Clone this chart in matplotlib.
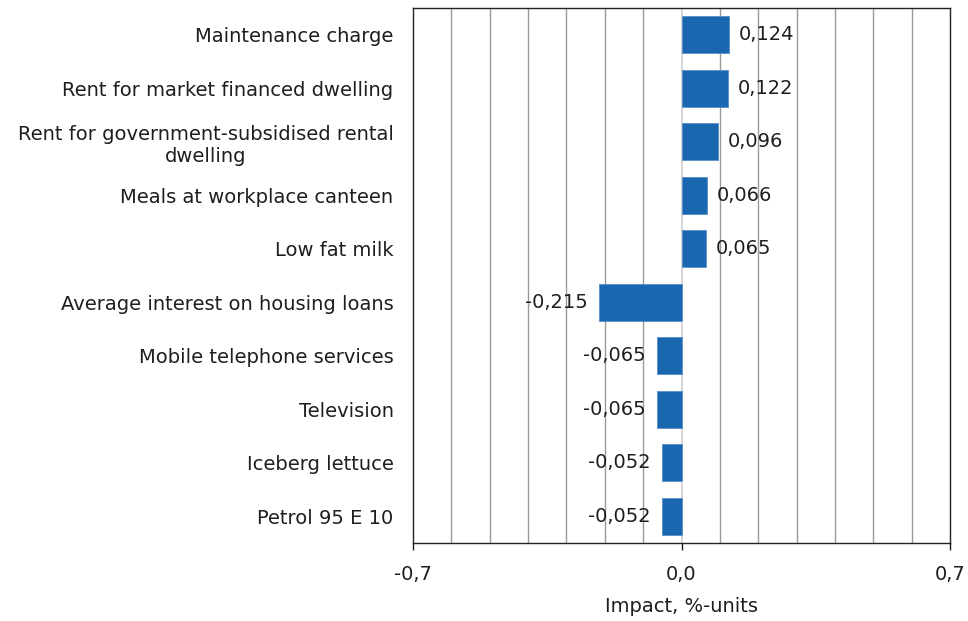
import matplotlib.pyplot as plt
import numpy as np

# Data
items = ["Maintenance charge",
         "Rent for market financed dwelling",
         "Rent for government-subsidised rental\ndwelling",
         "Meals at workplace canteen",
         "Low fat milk",
         "Average interest on housing loans",
         "Mobile telephone services",
         "Television",
         "Iceberg lettuce",
         "Petrol 95 E 10"]
impact = [0.124, 0.122, 0.096, 0.066, 0.065, -0.215, -0.065, -0.065, -0.052, -0.052]
xticks = [-0.7, 0.0, 0.7]

plt.rcParams['font.family'] = ['DejaVu Sans']
fs = 14

fig = plt.figure(figsize=(9.68, 6.21), dpi=100)
ax = fig.add_axes([0.4267, 0.1256, 0.5547, 0.8615])

y = np.arange(len(items))
ax.barh(y, impact, height=0.7, color='#1a67b0', edgecolor='#5a8fca', linewidth=0.6, zorder=3)

# value labels
for yi, v in zip(y, impact):
    txt = ("%.3f" % v).replace('.', ',')
    if v >= 0:
        ax.annotate(txt, (v, yi), xytext=(7, 0), textcoords='offset points',
                    ha='left', va='center', fontsize=fs, color='#1e1e1e')
    else:
        ax.annotate(txt, (v, yi), xytext=(-8, 0), textcoords='offset points',
                    ha='right', va='center', fontsize=fs, color='#1e1e1e')

ax.set_xlim(-0.7, 0.7)
ax.set_ylim(len(items) - 0.5, -0.5)

# gridlines every 0.1
ax.set_xticks(np.arange(-0.7, 0.71, 0.1), minor=True)
ax.grid(True, axis='x', which='minor', color='#9a9a9a', linewidth=1, zorder=0)
ax.tick_params(axis='x', which='minor', length=0)
ax.axvline(0, color='#d0d0d0', linewidth=1.2, zorder=2)

ax.set_xticks(xticks)
ax.set_xticklabels([("%.1f" % t).replace('.', ',') for t in xticks])
ax.tick_params(axis='x', which='major', length=5, width=1, pad=11, labelsize=fs, colors='#1e1e1e')

ax.set_yticks(y)
ax.set_yticklabels(items)
ax.tick_params(axis='y', length=0, pad=14, labelsize=fs, colors='#1e1e1e')
for t in ax.get_yticklabels():
    t.set_multialignment('center')

for s in ax.spines.values():
    s.set_color('#222222')
    s.set_linewidth(1)

ax.set_xlabel("Impact, %-units", fontsize=fs, color='#1e1e1e', labelpad=9)

fig.savefig("out.png", dpi=100)
